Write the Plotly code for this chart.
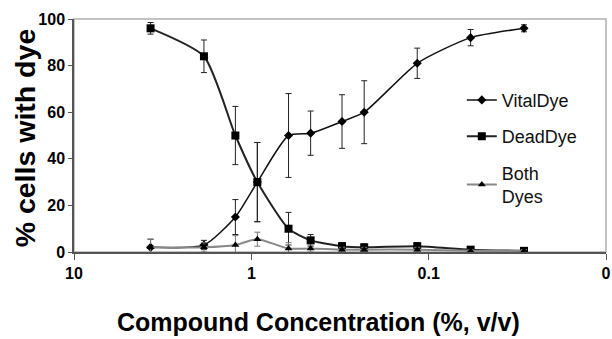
import plotly.graph_objects as go

# Data
concentration = [3.7, 1.85, 1.23, 0.925, 0.617, 0.463, 0.308, 0.231, 0.116, 0.058, 0.029]
vital_dye = [2, 3, 15, 30, 50, 51, 56, 60, 81, 92, 96]
vital_err = [3.5, 2, 7.5, 17, 18, 9.5, 11.5, 13.5, 6.5, 3.5, 1.5]
dead_dye = [96, 84, 50, 30, 10, 5, 2.5, 2, 2.5, 1, 0.5]
dead_err = [2.5, 7, 12.5, 17, 7, 2.5, 1.5, 1.5, 1.5, 1, 0.5]
both_dyes = [2, 2, 3, 5.5, 1.5, 1.5, 1, 1, 1, 0.5, 0.5]
both_err = [3.5, 2, 4, 3, 2.5, 1.5, 1, 1, 1, 0.5, 0.5]

x_tickvals = [10, 1, 0.1, 0.01]
x_ticktext = ["10", "1", "0.1", "0"]
x_minor_ticks = [m * d for d in (1, 0.1, 0.01) for m in (2, 3, 4, 5, 6, 7, 8, 9)]
y_tickvals = [0, 20, 40, 60, 80, 100]

FONT = "Liberation Sans, Arial, sans-serif"

fig = go.Figure()

fig.add_trace(go.Scatter(
    x=concentration, y=vital_dye, name="VitalDye", mode="lines+markers",
    legendgroup="a",
    line=dict(color="#111111", width=1.5, shape="spline", smoothing=0.6),
    marker=dict(symbol="diamond", size=7, color="#000000"),
    error_y=dict(type="data", array=vital_err, color="#222222", thickness=1, width=3),
))
fig.add_trace(go.Scatter(
    x=concentration, y=dead_dye, name="DeadDye", mode="lines+markers",
    legendgroup="b",
    line=dict(color="#222222", width=2, shape="spline", smoothing=0.6),
    marker=dict(symbol="square", size=8, color="#000000"),
    error_y=dict(type="data", array=dead_err, color="#222222", thickness=1, width=3),
))
fig.add_trace(go.Scatter(
    x=concentration, y=both_dyes, name="Both<br>Dyes", mode="lines+markers",
    legendgroup="c",
    line=dict(color="#888888", width=2, shape="spline", smoothing=0.6),
    marker=dict(symbol="triangle-up", size=7, color="#000000"),
    error_y=dict(type="data", array=both_err, color="#777777", thickness=1, width=3),
))

# plot-area frame (grey top/right like the original)
fig.add_shape(type="rect", xref="x domain", yref="y domain", x0=0, y0=0, x1=1, y1=1,
              line=dict(color="#b0b0b0", width=1.5), layer="below")

# axis titles as annotations (placed as in the original)
fig.add_annotation(text="Compound Concentration (%, v/v)", xref="paper", yref="paper",
                   x=0.46, y=-0.30, xanchor="center", yanchor="middle", showarrow=False,
                   font=dict(size=25, family=FONT, weight="bold", color="#000000"))
fig.add_annotation(text="% cells with dye", xref="paper", yref="paper", textangle=-90,
                   x=-0.092, y=0.488, xanchor="center", yanchor="middle", showarrow=False,
                   font=dict(size=28.5, family=FONT, weight="bold", color="#000000"))

fig.update_layout(
    width=612, height=339,
    margin=dict(l=74, r=6, t=19, b=87),
    paper_bgcolor="white", plot_bgcolor="white",
    font=dict(family=FONT, color="#000000"),
    showlegend=True,
    legend=dict(
        x=0.729, y=0.731, xanchor="left", yanchor="top",
        font=dict(size=18, family=FONT, color="#111111"),
        bgcolor="rgba(0,0,0,0)", borderwidth=0,
        tracegroupgap=10, itemwidth=30,
    ),
    xaxis=dict(
        type="log", range=[1, -2], automargin=False,
        tickvals=x_tickvals, ticktext=x_ticktext,
        showgrid=False, zeroline=False,
        showline=True, linecolor="#555555", linewidth=1.5,
        ticks="outside", ticklen=6, tickcolor="#555555",
        tickfont=dict(size=16, family=FONT, weight="bold"),
    ),
    xaxis2=dict(
        type="log", range=[1, -2], overlaying="x", anchor="y", side="bottom",
        automargin=False, tickvals=x_minor_ticks, showticklabels=False,
        showgrid=False, zeroline=False, showline=False,
        ticks="outside", ticklen=4, tickcolor="#888888",
    ),
    yaxis=dict(
        range=[0, 100], tickvals=y_tickvals, automargin=False,
        showgrid=False, zeroline=False,
        showline=True, linecolor="#555555", linewidth=1.5,
        ticks="outside", ticklen=4, tickcolor="#555555",
        tickfont=dict(size=16, family=FONT, weight="bold"),
    ),
)

fig.write_html("out.html", config={"displayModeBar": False},
               post_script="document.body.style.margin='0';")
